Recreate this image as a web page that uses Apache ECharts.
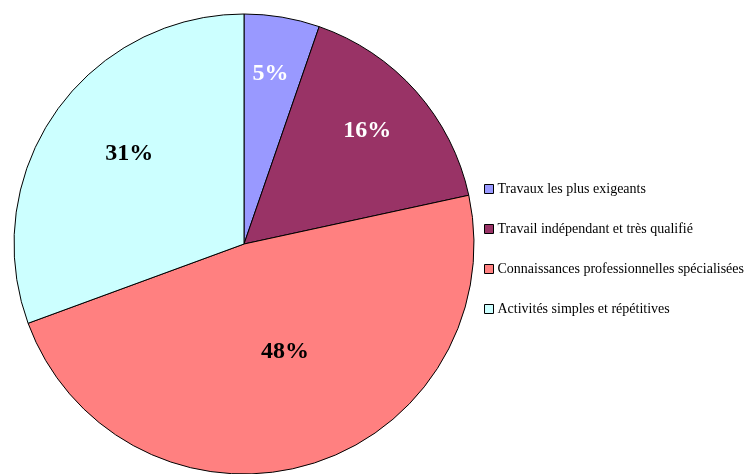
<!DOCTYPE html>
<html>
<head>
<meta charset="utf-8">
<script src="https://cdn.jsdelivr.net/npm/echarts@6/dist/echarts.min.js"></script>
<style>
html,body{margin:0;padding:0;background:#fff;}
#chart{width:752px;height:474px;}
</style>
</head>
<body>
<div id="chart"></div>
<script>
const categories = [
  "Travaux les plus exigeants",
  "Travail indépendant et très qualifié",
  "Connaissances professionnelles spécialisées",
  "Activités simples et répétitives"
];
const values = [5.3, 16.3, 47.8, 30.6];
const colors = ["#9999FF", "#993366", "#FF8080", "#CCFFFF"];
const labelColors = ["#ffffff", "#ffffff", "#000000", "#000000"];
const labelOffsets = [[7, -54], [35, -35], [8, -6], [-18, -23]];

const chart = echarts.init(document.getElementById('chart'), null, {renderer: 'canvas'});
const total = values.reduce((a, b) => a + b, 0);
chart.setOption({
  animation: false,
  legend: {
    orient: 'vertical',
    left: 479,
    top: 177,
    itemWidth: 9,
    itemHeight: 9,
    itemGap: 26,
    icon: 'rect',
    selectedMode: false,
    textStyle: {fontFamily: 'Liberation Serif', fontSize: 14, color: '#000', padding: [0, 0, 0, -1]},
    data: categories.map((c, i) => ({name: c, itemStyle: {color: colors[i], borderColor: '#000', borderWidth: 1}}))
  },
  series: [{
    type: 'pie',
    center: [244, 244],
    radius: 230,
    startAngle: 90,
    clockwise: true,
    avoidLabelOverlap: false,
    itemStyle: {borderColor: '#000', borderWidth: 1},
    emphasis: {disabled: true},
    label: {
      show: true,
      position: 'inside',
      fontFamily: 'Liberation Serif',
      fontWeight: 'bold',
      fontSize: 24,
      formatter: p => Math.round(p.value / total * 100) + '%'
    },
    labelLine: {show: false},
    data: categories.map((c, i) => ({
      name: c,
      value: values[i],
      itemStyle: {color: colors[i]},
      label: {color: labelColors[i], offset: labelOffsets[i]}
    }))
  }]
});
</script>
</body>
</html>
